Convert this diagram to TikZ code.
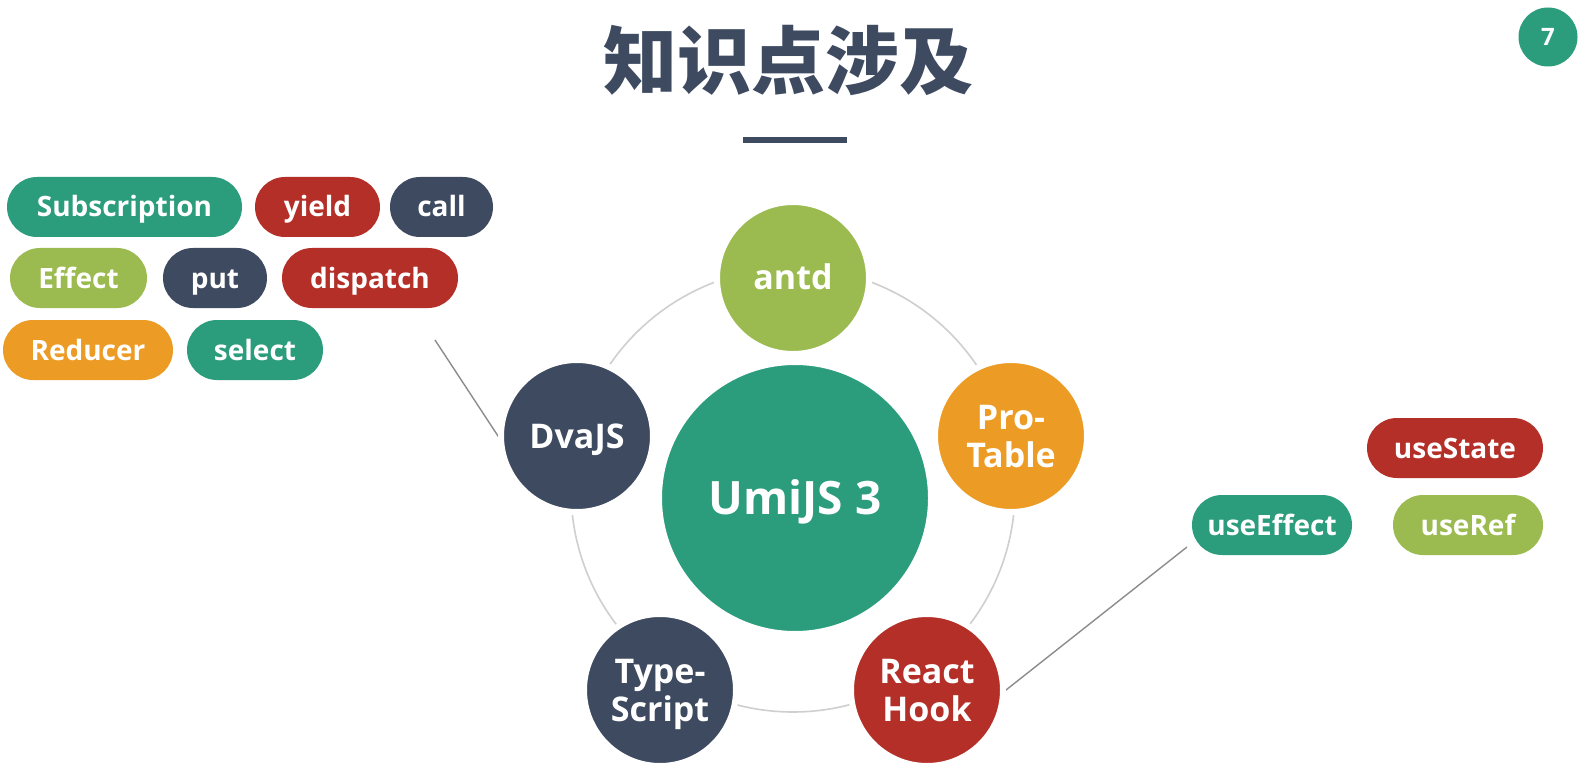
\documentclass[tikz,border=0pt]{standalone}
\usepackage{fontspec}
\setmainfont{Open Sans}
\newfontfamily\cjk{Noto Sans CJK SC}
\definecolor{cTeal}{HTML}{2B9C7C}
\definecolor{cRed}{HTML}{B42F28}
\definecolor{cNavy}{HTML}{3D4A60}
\definecolor{cGreen}{HTML}{9BBB50}
\definecolor{cOrange}{HTML}{EC9B24}
\definecolor{cRing}{HTML}{CFCFCF}
\definecolor{cLink}{HTML}{8C8C8C}
\pgfdeclarelayer{bg}
\pgfsetlayers{bg,main}
\begin{document}
\begin{tikzpicture}[x=1pt,y=-1pt,
  pill/.style={rectangle, rounded corners=30pt, minimum height=60pt, inner sep=0pt,
    text=white, font=\bfseries\fontsize{28}{32}\selectfont, text height=20pt, text depth=0pt},
  bubble/.style={circle, draw=white, line width=6pt, minimum size=152pt, inner sep=0pt,
    text=white, font=\bfseries\fontsize{34}{38}\selectfont, align=center, text depth=0pt},
  oneline/.style={text height=24pt, text depth=0pt},
  link/.style={draw=cLink, line width=1.4pt},
  ring/.style={circle, draw=cRing, line width=1.6pt, inner sep=0pt}]
\useasboundingbox (0,0) rectangle (1588,778);

% heading and rule
\node[font=\cjk\bfseries\fontsize{74}{80}\selectfont, text=cNavy] (title) at (788,60) {知识点涉及};
\node[fill=cNavy, minimum width=104pt, minimum height=6pt, inner sep=0pt] (bar) at (795,140) {};
\node[circle, fill=cTeal, minimum size=59pt, inner sep=0pt, text=white,
  font=\bfseries\fontsize{24}{28}\selectfont, text height=17pt, text depth=0pt] (page) at (1548,37) {7};

% central hub and its satellites
\node[circle, fill=cTeal, draw=white, line width=6pt, minimum size=272pt, inner sep=0pt,
  text=white, font=\bfseries\fontsize{46}{50}\selectfont, text height=33pt, text depth=0pt] (umi) at (795,498) {UmiJS 3};
\node[bubble, oneline, fill=cGreen] (antd) at (793,278) {antd};
\node[bubble, oneline, fill=cNavy] (dva) at (577,436) {DvaJS};
\node[bubble, fill=cOrange] (pro) at (1011,436) {Pro-\\Table};
\node[bubble, fill=cNavy] (ts) at (660,690) {Type-\\Script};
\node[bubble, fill=cRed] (rh) at (927,690) {React\\Hook};

% dva concepts
\node[pill, fill=cTeal, minimum width=235pt] (subs) at (124.5,207) {Subscription};
\node[pill, fill=cRed, minimum width=125pt] (yield) at (317.5,207) {yield};
\node[pill, fill=cNavy, minimum width=103pt] (call) at (441.5,207) {call};
\node[pill, fill=cGreen, minimum width=137pt] (effect) at (78.5,278) {Effect};
\node[pill, fill=cNavy, minimum width=104pt] (put) at (215,278) {put};
\node[pill, fill=cRed, minimum width=176pt] (dispatch) at (370,278) {dispatch};
\node[pill, fill=cOrange, minimum width=170pt] (reducer) at (88,350) {Reducer};
\node[pill, fill=cTeal, minimum width=136pt] (select) at (255,350) {select};

% hooks
\node[pill, fill=cRed, minimum width=176pt] (usestate) at (1455,448) {useState};
\node[pill, fill=cTeal, minimum width=160pt] (useeffect) at (1272,525) {useEffect};
\node[pill, fill=cGreen, minimum width=150pt] (useref) at (1468,525) {useRef};

% page background, orbit and callout lines behind everything
\coordinate (dvaTip) at (435,340);
\coordinate (hookTip) at (1187,547);
\begin{pgfonlayer}{bg}
  \fill[white] (0,0) rectangle (1588,778);
  \node[ring, minimum size=444pt] (orbit) at (793,490) {};
  \draw[link, shorten >=-16pt] (dvaTip) -- (dva.west);
  \draw[link, shorten <=-16pt] (rh.east) -- (hookTip);
\end{pgfonlayer}
\end{tikzpicture}
\end{document}
